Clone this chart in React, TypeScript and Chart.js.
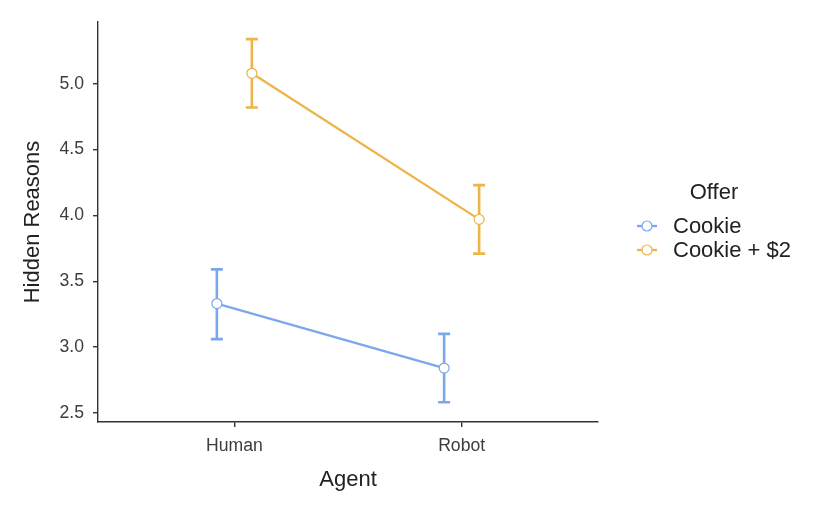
import React, { useEffect, useRef } from "react";
import { Chart, registerables } from "chart.js";

Chart.register(...registerables);

const agents = ["Human", "Robot"];
const offers = ["Cookie", "Cookie + $2"];
const offerColors = ["#7BA7EB", "#EDB447"];

const cookieMeans = [3.33, 2.84];
const cookieLower = [3.06, 2.58];
const cookieUpper = [3.59, 3.10];

const cookie2Means = [5.08, 3.97];
const cookie2Lower = [4.82, 3.71];
const cookie2Upper = [5.34, 4.23];

const yTicks = [2.5, 3.0, 3.5, 4.0, 4.5, 5.0];

const xTitle = "Agent";
const yTitle = "Hidden Reasons";
const legendTitle = "Offer";

const DODGE = 0.077;
const FONT = "'Liberation Sans', Arial, Helvetica, sans-serif";

const means = [cookieMeans, cookie2Means];
const lowers = [cookieLower, cookie2Lower];
const uppers = [cookieUpper, cookie2Upper];

export default function App() {
  const ref = useRef<HTMLCanvasElement | null>(null);

  useEffect(() => {
    document.body.style.margin = "0";
    const canvas = ref.current;
    if (!canvas) return;

    const datasets = offers.map((name, s) => ({
      type: "line" as const,
      label: name,
      data: agents.map((_, i) => ({ x: i + 1 + (s === 0 ? -DODGE : DODGE), y: means[s][i] })),
      borderColor: offerColors[s],
      borderWidth: 2.3,
      pointRadius: 5,
      pointBackgroundColor: "#ffffff",
      pointBorderColor: offerColors[s],
      pointBorderWidth: 1.2,
      fill: false,
      tension: 0,
    }));

    const errorBars = {
      id: "errorBars",
      beforeDatasetsDraw(chart: any) {
        const { ctx } = chart;
        const xs = chart.scales.x;
        const ys = chart.scales.y;
        ctx.save();
        offers.forEach((_, s) => {
          ctx.strokeStyle = offerColors[s];
          ctx.lineWidth = 2.6;
          agents.forEach((__, i) => {
            const xv = i + 1 + (s === 0 ? -DODGE : DODGE);
            const px = xs.getPixelForValue(xv);
            const pt = ys.getPixelForValue(uppers[s][i]);
            const pb = ys.getPixelForValue(lowers[s][i]);
            ctx.beginPath();
            ctx.moveTo(px, pt);
            ctx.lineTo(px, pb);
            ctx.moveTo(px - 6, pt);
            ctx.lineTo(px + 6, pt);
            ctx.moveTo(px - 6, pb);
            ctx.lineTo(px + 6, pb);
            ctx.stroke();
          });
        });
        ctx.restore();
      },
    };

    const customLegend = {
      id: "customLegend",
      afterDraw(chart: any) {
        const { ctx } = chart;
        const left = chart.chartArea.right + 39;
        ctx.save();
        ctx.fillStyle = "#222222";
        ctx.font = `22px ${FONT}`;
        ctx.textBaseline = "middle";
        ctx.textAlign = "center";
        ctx.fillText(legendTitle, left + 77, 193);
        ctx.textAlign = "left";
        chart.data.datasets.forEach((ds: any, s: number) => {
          const y = 226 + s * 24;
          ctx.strokeStyle = ds.borderColor;
          ctx.lineWidth = 2.3;
          ctx.beginPath();
          ctx.moveTo(left, y);
          ctx.lineTo(left + 20, y);
          ctx.stroke();
          ctx.beginPath();
          ctx.arc(left + 10, y, 5, 0, Math.PI * 2);
          ctx.fillStyle = "#ffffff";
          ctx.fill();
          ctx.lineWidth = 1.2;
          ctx.stroke();
          ctx.fillStyle = "#222222";
          ctx.fillText(ds.label, left + 36, y + 1);
        });
        ctx.restore();
      },
    };

    const chart = new Chart(canvas, {
      type: "line",
      data: { datasets },
      options: {
        animation: false,
        responsive: false,
        devicePixelRatio: 1,
        layout: { padding: { top: 22, right: 232, bottom: 0, left: 0 } },
        plugins: { legend: { display: false }, tooltip: { enabled: false } },
        scales: {
          x: {
            type: "linear",
            min: 0.4,
            max: 2.6,
            afterBuildTicks: (scale: any) => {
              scale.ticks = agents.map((_, i) => ({ value: i + 1 }));
            },
            afterFit: (scale: any) => {
              scale.height = 90;
            },
            ticks: {
              autoSkip: false,
              maxRotation: 0,
              padding: 9,
              color: "#3D3D3D",
              font: { family: FONT, size: 17.6 },
              callback: (v: any) => agents[Math.round(Number(v)) - 1] ?? "",
            },
            grid: { drawOnChartArea: false, drawTicks: true, tickLength: 5, color: "#333333", lineWidth: 1.4 },
            border: { display: true, color: "#333333", width: 1.4 },
            title: {
              display: true,
              text: xTitle,
              color: "#222222",
              font: { family: FONT, size: 22 },
              padding: { top: 0, bottom: 19 },
            },
          },
          y: {
            type: "linear",
            min: 2.43,
            max: 5.47,
            afterBuildTicks: (scale: any) => {
              scale.ticks = yTicks.map((v) => ({ value: v }));
            },
            afterFit: (scale: any) => {
              scale.width = 98;
            },
            ticks: {
              padding: 9,
              color: "#3D3D3D",
              font: { family: FONT, size: 17.6 },
              callback: (v: any) => Number(v).toFixed(1),
            },
            grid: { drawOnChartArea: false, drawTicks: true, tickLength: 5, color: "#333333", lineWidth: 1.4 },
            border: { display: true, color: "#333333", width: 1.4 },
            title: {
              display: true,
              text: yTitle,
              color: "#222222",
              font: { family: FONT, size: 22 },
              padding: { top: 20, bottom: 0 },
            },
          },
        },
      },
      plugins: [errorBars, customLegend],
    } as any);

    return () => chart.destroy();
  }, []);

  return (
    <div style={{ width: 830, height: 512 }}>
      <canvas ref={ref} width={830} height={512} />
    </div>
  );
}
